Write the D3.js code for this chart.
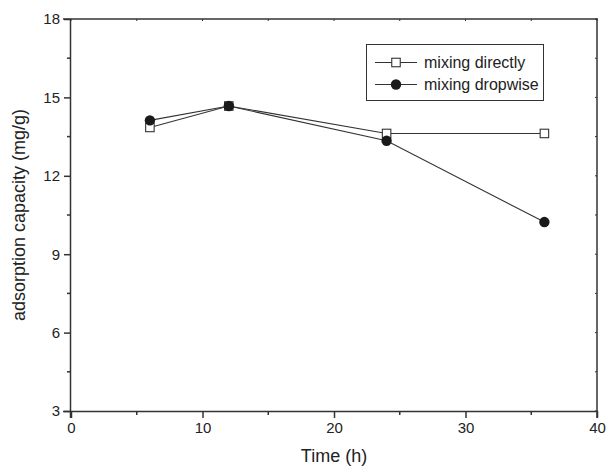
<!DOCTYPE html>
<html>
<head>
<meta charset="utf-8">
<script src="https://cdn.jsdelivr.net/npm/d3@7"></script>
<style>
  html, body { margin: 0; padding: 0; background: #fff; }
  text { font-family: "Liberation Sans", Arial, sans-serif; fill: #222; }
</style>
</head>
<body>
<svg id="chart" width="608" height="467"></svg>
<script>
// Adsorption capacity over mixing time
const timeHours = [6, 12, 24, 36];
const mixingDirectly = [13.85, 14.67, 13.62, 13.62];
const mixingDropwise = [14.12, 14.67, 13.34, 10.23];
const seriesNames = ["mixing directly", "mixing dropwise"];
const xTicks = [0, 10, 20, 30, 40];
const yTicks = [3, 6, 9, 12, 15, 18];

const svg = d3.select("#chart");
const plotLeft = 71, plotRight = 597, plotTop = 19, plotBottom = 411;

const x = d3.scaleLinear().domain([0, 40]).range([plotLeft, plotRight]);
const y = d3.scaleLinear().domain([3, 18]).range([plotBottom, plotTop]);

const axisColor = "#333";

// Frame: top and right edges
svg.append("line").attr("x1", plotLeft - 8).attr("x2", plotRight + 1).attr("y1", plotTop).attr("y2", plotTop)
  .attr("stroke", axisColor).attr("stroke-width", 1.5);
svg.append("line").attr("x1", plotRight).attr("x2", plotRight).attr("y1", plotTop).attr("y2", plotBottom + 7)
  .attr("stroke", axisColor).attr("stroke-width", 1.5);

// Small ticks on top/right
d3.range(0, 41, 5).forEach(v => {
  svg.append("line").attr("x1", x(v)).attr("x2", x(v)).attr("y1", plotTop).attr("y2", plotTop + 2)
    .attr("stroke", axisColor).attr("stroke-width", 1);
});
d3.range(3, 18.1, 1.5).forEach(v => {
  svg.append("line").attr("x1", plotRight - 2).attr("x2", plotRight).attr("y1", y(v)).attr("y2", y(v))
    .attr("stroke", axisColor).attr("stroke-width", 1);
});

// Bottom axis
const xAxis = d3.axisBottom(x).tickValues(xTicks).tickSize(7).tickSizeOuter(0).tickPadding(4);
const gx = svg.append("g").attr("transform", `translate(0,${plotBottom})`).call(xAxis);
gx.select(".domain").attr("stroke", axisColor).attr("stroke-width", 1.5)
  .attr("d", `M${plotLeft - 8},0.5H${plotRight + 1}`);
gx.selectAll(".tick line").attr("stroke", axisColor).attr("stroke-width", 1.5);
gx.selectAll("text").attr("font-size", 15).style("fill", "#222");
[5, 15, 25, 35].forEach(v => {
  gx.append("line").attr("x1", x(v)).attr("x2", x(v)).attr("y1", 0).attr("y2", 4)
    .attr("stroke", axisColor).attr("stroke-width", 1.5);
});

// Left axis
const yAxis = d3.axisLeft(y).tickValues(yTicks).tickSize(7).tickSizeOuter(0).tickPadding(4);
const gy = svg.append("g").attr("transform", `translate(${plotLeft},0)`).call(yAxis);
gy.select(".domain").attr("stroke", axisColor).attr("stroke-width", 1.5)
  .attr("d", `M-0.5,${plotTop}V${plotBottom + 7}`);
gy.selectAll(".tick line").attr("stroke", axisColor).attr("stroke-width", 1.5);
gy.selectAll("text").attr("font-size", 15).style("fill", "#222");
[4.5, 7.5, 10.5, 13.5, 16.5].forEach(v => {
  gy.append("line").attr("x1", -4).attr("x2", 0).attr("y1", y(v)).attr("y2", y(v))
    .attr("stroke", axisColor).attr("stroke-width", 1.5);
});

// Axis titles
svg.append("text").attr("x", 334).attr("y", 462)
  .attr("text-anchor", "middle").attr("font-size", 18).text("Time (h)");
svg.append("text").attr("transform", `translate(25,${(plotTop + plotBottom) / 2}) rotate(-90)`)
  .attr("text-anchor", "middle").attr("font-size", 18).text("adsorption capacity (mg/g)");

const line = d3.line().x((d, i) => x(timeHours[i])).y(d => y(d));
const lineColor = "#333";

// Series lines
svg.append("path").datum(mixingDirectly).attr("d", line)
  .attr("fill", "none").attr("stroke", lineColor).attr("stroke-width", 1.1);
svg.append("path").datum(mixingDropwise).attr("d", line)
  .attr("fill", "none").attr("stroke", lineColor).attr("stroke-width", 1.1);

// Markers
const sq = 8.5;
svg.selectAll("rect.direct").data(mixingDirectly).enter().append("rect")
  .attr("class", "direct")
  .attr("x", (d, i) => x(timeHours[i]) - sq / 2).attr("y", d => y(d) - sq / 2)
  .attr("width", sq).attr("height", sq)
  .attr("fill", "#fff").attr("stroke", lineColor).attr("stroke-width", 1.1);
svg.selectAll("circle.drop").data(mixingDropwise).enter().append("circle")
  .attr("class", "drop")
  .attr("cx", (d, i) => x(timeHours[i])).attr("cy", d => y(d)).attr("r", 5.2)
  .attr("fill", "#1a1a1a");

// Legend
const lg = svg.append("g");
lg.append("rect").attr("x", 366.5).attr("y", 44.5).attr("width", 177).attr("height", 56)
  .attr("fill", "#fff").attr("stroke", lineColor).attr("stroke-width", 1);
const rowsY = [62.5, 84.5];
seriesNames.forEach((name, i) => {
  lg.append("line").attr("x1", 375).attr("x2", 417).attr("y1", rowsY[i]).attr("y2", rowsY[i])
    .attr("stroke", lineColor).attr("stroke-width", 1.1);
  if (i === 0) {
    lg.append("rect").attr("x", 396 - sq / 2).attr("y", rowsY[i] - sq / 2)
      .attr("width", sq).attr("height", sq)
      .attr("fill", "#fff").attr("stroke", lineColor).attr("stroke-width", 1.1);
  } else {
    lg.append("circle").attr("cx", 396).attr("cy", rowsY[i]).attr("r", 5.2).attr("fill", "#1a1a1a");
  }
  lg.append("text").attr("x", 424).attr("y", rowsY[i]).attr("dy", "0.35em")
    .attr("font-size", 16).text(name);
});
</script>
</body>
</html>
